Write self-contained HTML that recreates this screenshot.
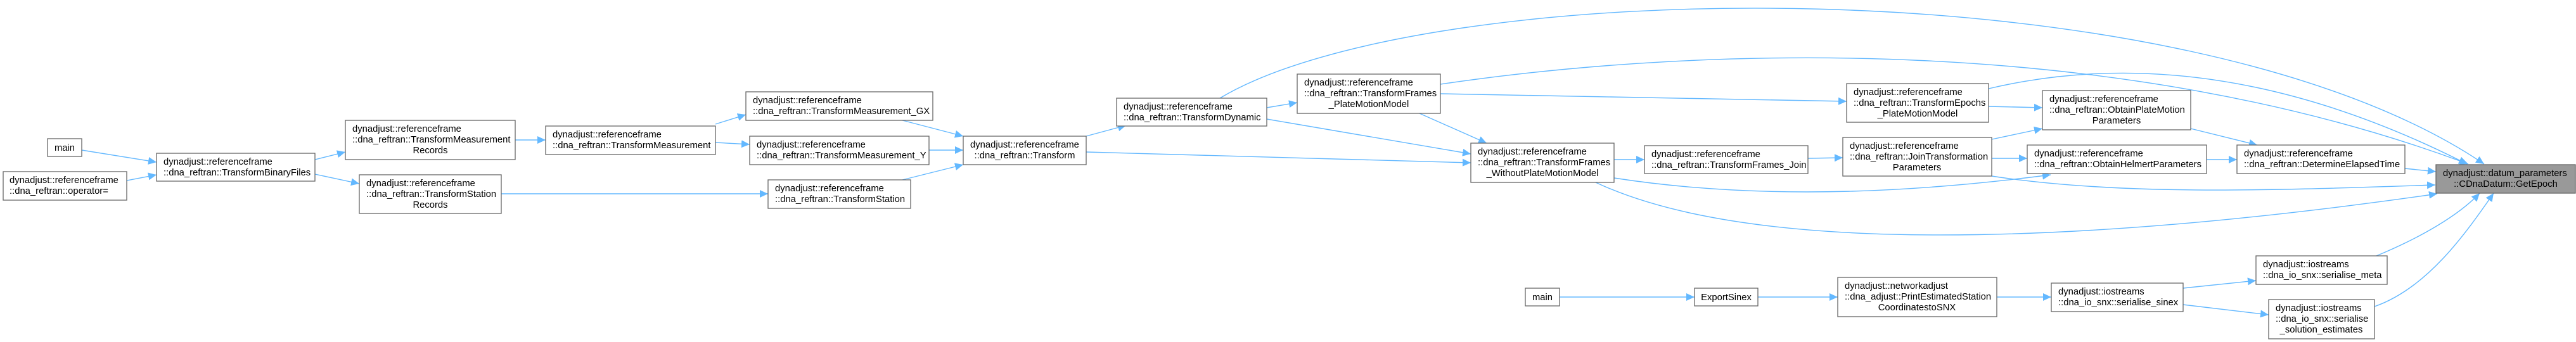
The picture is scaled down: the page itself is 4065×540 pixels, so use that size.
<!DOCTYPE html>
<html><head><meta charset="utf-8"><style>
html,body{margin:0;padding:0;background:#fff;}
svg{display:block;}
text{font-family:"Liberation Sans",sans-serif;font-size:14.8px;fill:#000;}
.n{fill:#fff;stroke:#666;stroke-width:1.3;}
.e{fill:none;stroke:#63b8ff;stroke-width:1.4;}
</style></head><body>
<svg width="4065" height="540" viewBox="0 0 4065 540" xmlns="http://www.w3.org/2000/svg">
<defs>
<marker id="a" markerUnits="userSpaceOnUse" markerWidth="14" markerHeight="12" refX="13" refY="6" orient="auto">
<path d="M0,0 L13,6 L0,12 z" fill="#63b8ff"/>
</marker>
</defs>
<g marker-end="url(#a)">
<path class="e" d="M129,237 L247,256"/>
<path class="e" d="M200,285 L247,276"/>
<path class="e" d="M497,252 L545,240"/>
<path class="e" d="M497,275 L567,290"/>
<path class="e" d="M813,221 L861,221"/>
<path class="e" d="M791,306 L1212,306"/>
<path class="e" d="M1129,196 L1177,181"/>
<path class="e" d="M1129,225 L1183,228"/>
<path class="e" d="M1424,190 L1520,215"/>
<path class="e" d="M1466,237 L1520,237"/>
<path class="e" d="M1424,284 L1520,260"/>
<path class="e" d="M1714,215 L1777,198"/>
<path class="e" d="M1714,240 L2321,257"/>
<path class="e" d="M1999,170 L2047,162"/>
<path class="e" d="M1999,188 L2321,243"/>
<path class="e" d="M1925,155 C2250,-40 3450,-60 3920,259"/>
<path class="e" d="M2240,179 L2346,226"/>
<path class="e" d="M2273,148 L2914,160"/>
<path class="e" d="M2273,133 C2700,70 3350,55 3895,259"/>
<path class="e" d="M2547,252 L2595,252"/>
<path class="e" d="M2547,281 C2800,320 3050,300 3236,276"/>
<path class="e" d="M2518,288 C2800,420 3400,370 3846,306"/>
<path class="e" d="M2853,250 L2908,249"/>
<path class="e" d="M3138,168 L3223,170"/>
<path class="e" d="M3138,140 C3350,90 3600,110 3893,259"/>
<path class="e" d="M3143,220 L3223,203"/>
<path class="e" d="M3143,250 L3199,250"/>
<path class="e" d="M3143,278 C3350,310 3600,300 3843,292"/>
<path class="e" d="M3457,203 L3562,229"/>
<path class="e" d="M3482,252 L3530,252"/>
<path class="e" d="M3795,266 L3844,271"/>
<path class="e" d="M3750,404 C3820,375 3880,340 3913,305"/>
<path class="e" d="M3747,484 C3830,455 3890,370 3935,305"/>
<path class="e" d="M2461,469 L2674,469"/>
<path class="e" d="M2774,469 L2900,469"/>
<path class="e" d="M3151,469 L3237,469"/>
<path class="e" d="M3445,455 L3560,443"/>
<path class="e" d="M3445,481 L3580,497"/>
</g>

<!-- nodes -->
<rect class="n" x="75" y="219" width="54" height="28"/><text x="102" y="238" text-anchor="middle">main</text>
<rect class="n" x="5" y="271" width="195" height="45"/><text x="15" y="289">dynadjust::referenceframe</text><text x="15" y="306">::dna_reftran::operator=</text>
<rect class="n" x="247" y="242" width="250" height="44"/><text x="258" y="260">dynadjust::referenceframe</text><text x="258" y="277">::dna_reftran::TransformBinaryFiles</text>
<rect class="n" x="545" y="190" width="268" height="62"/><text x="556" y="208">dynadjust::referenceframe</text><text x="556" y="225">::dna_reftran::TransformMeasurement</text><text x="679" y="242" text-anchor="middle">Records</text>
<rect class="n" x="567" y="276" width="224" height="61"/><text x="578" y="294">dynadjust::referenceframe</text><text x="578" y="311">::dna_reftran::TransformStation</text><text x="679" y="328" text-anchor="middle">Records</text>
<rect class="n" x="861" y="199" width="268" height="45"/><text x="872" y="217">dynadjust::referenceframe</text><text x="872" y="234">::dna_reftran::TransformMeasurement</text>
<rect class="n" x="1177" y="145" width="295" height="45"/><text x="1188" y="163">dynadjust::referenceframe</text><text x="1188" y="180">::dna_reftran::TransformMeasurement_GX</text>
<rect class="n" x="1183" y="215" width="283" height="45"/><text x="1194" y="233">dynadjust::referenceframe</text><text x="1194" y="250">::dna_reftran::TransformMeasurement_Y</text>
<rect class="n" x="1212" y="284" width="225" height="45"/><text x="1223" y="302">dynadjust::referenceframe</text><text x="1223" y="319">::dna_reftran::TransformStation</text>
<rect class="n" x="1520" y="215" width="194" height="45"/><text x="1531" y="233">dynadjust::referenceframe</text><text x="1617" y="250" text-anchor="middle">::dna_reftran::Transform</text>
<rect class="n" x="1762" y="155" width="237" height="44"/><text x="1773" y="173">dynadjust::referenceframe</text><text x="1773" y="190">::dna_reftran::TransformDynamic</text>
<rect class="n" x="2047" y="117" width="226" height="62"/><text x="2058" y="135">dynadjust::referenceframe</text><text x="2058" y="152">::dna_reftran::TransformFrames</text><text x="2160" y="169" text-anchor="middle">_PlateMotionModel</text>
<rect class="n" x="2321" y="226" width="226" height="62"/><text x="2332" y="244">dynadjust::referenceframe</text><text x="2332" y="261">::dna_reftran::TransformFrames</text><text x="2434" y="278" text-anchor="middle">_WithoutPlateMotionModel</text>
<rect class="n" x="2595" y="230" width="258" height="44"/><text x="2606" y="248">dynadjust::referenceframe</text><text x="2606" y="265">::dna_reftran::TransformFrames_Join</text>
<rect class="n" x="2914" y="132" width="224" height="61"/><text x="2925" y="150">dynadjust::referenceframe</text><text x="2925" y="167">::dna_reftran::TransformEpochs</text><text x="3026" y="184" text-anchor="middle">_PlateMotionModel</text>
<rect class="n" x="2908" y="217" width="235" height="61"/><text x="2919" y="235">dynadjust::referenceframe</text><text x="2919" y="252">::dna_reftran::JoinTransformation</text><text x="3025" y="269" text-anchor="middle">Parameters</text>
<rect class="n" x="3223" y="143" width="234" height="62"/><text x="3234" y="161">dynadjust::referenceframe</text><text x="3234" y="178">::dna_reftran::ObtainPlateMotion</text><text x="3340" y="195" text-anchor="middle">Parameters</text>
<rect class="n" x="3199" y="229" width="283" height="45"/><text x="3210" y="247">dynadjust::referenceframe</text><text x="3210" y="264">::dna_reftran::ObtainHelmertParameters</text>
<rect class="n" x="3530" y="229" width="265" height="45"/><text x="3541" y="247">dynadjust::referenceframe</text><text x="3541" y="264">::dna_reftran::DetermineElapsedTime</text>
<rect x="3844" y="260" width="220" height="45" fill="#999" stroke="#666" stroke-width="1.3"/><text x="3855" y="278">dynadjust::datum_parameters</text><text x="3954" y="295" text-anchor="middle">::CDnaDatum::GetEpoch</text>
<rect class="n" x="3560" y="404" width="207" height="45"/><text x="3571" y="422">dynadjust::iostreams</text><text x="3571" y="439">::dna_io_snx::serialise_meta</text>
<rect class="n" x="3580" y="473" width="167" height="62"/><text x="3591" y="491">dynadjust::iostreams</text><text x="3591" y="508">::dna_io_snx::serialise</text><text x="3663" y="525" text-anchor="middle">_solution_estimates</text>
<rect class="n" x="2407" y="455" width="54" height="28"/><text x="2434" y="474" text-anchor="middle">main</text>
<rect class="n" x="2674" y="455" width="100" height="28"/><text x="2724" y="474" text-anchor="middle">ExportSinex</text>
<rect class="n" x="2900" y="438" width="251" height="62"/><text x="2911" y="456">dynadjust::networkadjust</text><text x="2911" y="473">::dna_adjust::PrintEstimatedStation</text><text x="3025" y="490" text-anchor="middle">CoordinatestoSNX</text>
<rect class="n" x="3237" y="447" width="208" height="45"/><text x="3248" y="465">dynadjust::iostreams</text><text x="3248" y="482">::dna_io_snx::serialise_sinex</text>
</svg>
</body></html>
